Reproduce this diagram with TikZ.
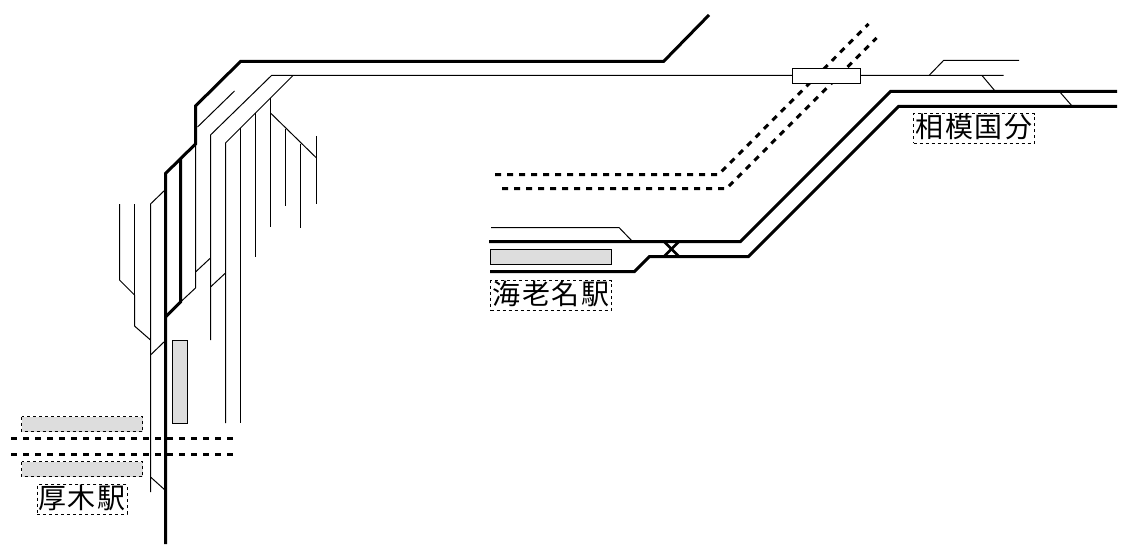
\documentclass[tikz,border=0pt]{standalone}
\usepackage{fontspec}
\newfontfamily\cjk[LetterSpace=7]{Noto Sans CJK JP}
\definecolor{platgray}{HTML}{DDDDDD}
\tikzset{
  mainline/.style={line width=2.25pt, black, line join=miter},
  branchline/.style={line width=0.75pt, black},
  otherline/.style={line width=2.25pt, black, dash pattern=on 4.5pt off 4.5pt},
  platform/.style={fill=platgray, draw=black, line width=0.75pt},
  otherplatform/.style={fill=platgray, draw=black, line width=0.75pt, dash pattern=on 2.25pt off 2.25pt},
  stationlabel/.style={draw=black, line width=0.75pt, dash pattern=on 2.25pt off 2.25pt, inner sep=0pt, text height=17.5pt, text depth=4.5pt, font=\cjk\fontsize{21}{21}\selectfont}
}
\begin{document}
\begin{tikzpicture}[x=0.75pt, y=-0.75pt]

\useasboundingbox (0,0) rectangle (1126,556);

% Siding tracks at the corner
\draw[branchline] (197.5,127) -- (234.5,91);
\draw[branchline] (1003.5,75.5) -- (271.5,75.5) -- (210.5,135) -- (210.5,340);
\draw[branchline] (293,75.5) -- (225.5,143) -- (225.5,423);
\draw[branchline] (240.5,128) -- (240.5,423);
\draw[branchline] (255.5,113) -- (255.5,257);
\draw[branchline] (270.5,98) -- (270.5,227);
\draw[branchline] (270.5,113) -- (316.5,158);
\draw[branchline] (285.5,129) -- (285.5,206);
\draw[branchline] (300.5,144) -- (300.5,228);
\draw[branchline] (316.5,136) -- (316.5,204);
\draw[branchline] (195.5,144) -- (195.5,288) -- (180.5,302);
\draw[branchline] (195.5,272) -- (210.5,258);
\draw[branchline] (210.5,287) -- (225.5,273);

% Sidings left of the line
\draw[branchline] (119.5,204) -- (119.5,280) -- (134.5,295) -- (134.5,326) -- (150.5,340);
\draw[branchline] (134.5,204) -- (134.5,295);
\draw[branchline] (165,190) -- (150.5,204) -- (150.5,492);
\draw[branchline] (150.5,355) -- (165,341);
\draw[branchline] (150.5,477) -- (165,490);

% Sidings on the right
\draw[branchline] (929,75.5) -- (943.5,60.5) -- (1019,60.5);
\draw[branchline] (982,75.5) -- (995,91);
\draw[branchline] (1059,91) -- (1072,106);
\draw[branchline] (491,227.5) -- (619,227.5) -- (632,241);

% Other lines
\draw[otherline] (11,438.5) -- (233,438.5);
\draw[otherline] (11,454.5) -- (233,454.5);
\draw[otherline] (495,174.5) -- (718.5,174.5) -- (868.5,24);
\draw[otherline] (502,188.5) -- (726.5,188.5) -- (876.5,38);

% Crossing box
\filldraw[fill=white, draw=black, line width=0.75pt] (792.5,68.5) rectangle (860.5,83.5);

% Main line
\draw[mainline] (165.5,544) -- (165.5,173.5) -- (195.5,144) -- (195.5,106) -- (240.5,61.5) -- (663.5,61.5) -- (709,15);
\draw[mainline] (180.5,158) -- (180.5,302) -- (165.5,317);
\draw[mainline] (489,241.5) -- (740.5,241.5) -- (890.5,91.5) -- (1117,91.5);
\draw[mainline] (490,271.5) -- (634.5,271.5) -- (649.5,256.5) -- (748.5,256.5) -- (898.5,106.5) -- (1117,106.5);
\draw[line width=1.9pt] (664,241.5) -- (679,256.5);
\draw[line width=1.9pt] (679,241.5) -- (664,256.5);

% Platforms
\filldraw[platform] (172.5,340.5) rectangle (187.5,423.5);
\filldraw[platform] (490.5,249.5) rectangle (611.5,264.5);
\filldraw[otherplatform] (21.5,416.5) rectangle (142.5,431.5);
\filldraw[otherplatform] (21.5,461.5) rectangle (142.5,476.5);

% Station names
\path
(82,499.5) node[stationlabel, minimum width=67.5pt] (atsugi) {厚木駅}
(551,295.5) node[stationlabel, minimum width=90.75pt] (ebina) {海老名駅}
(974,128.5) node[stationlabel, minimum width=90.75pt] (sagamikokubu) {相模国分};

\end{tikzpicture}
\end{document}
